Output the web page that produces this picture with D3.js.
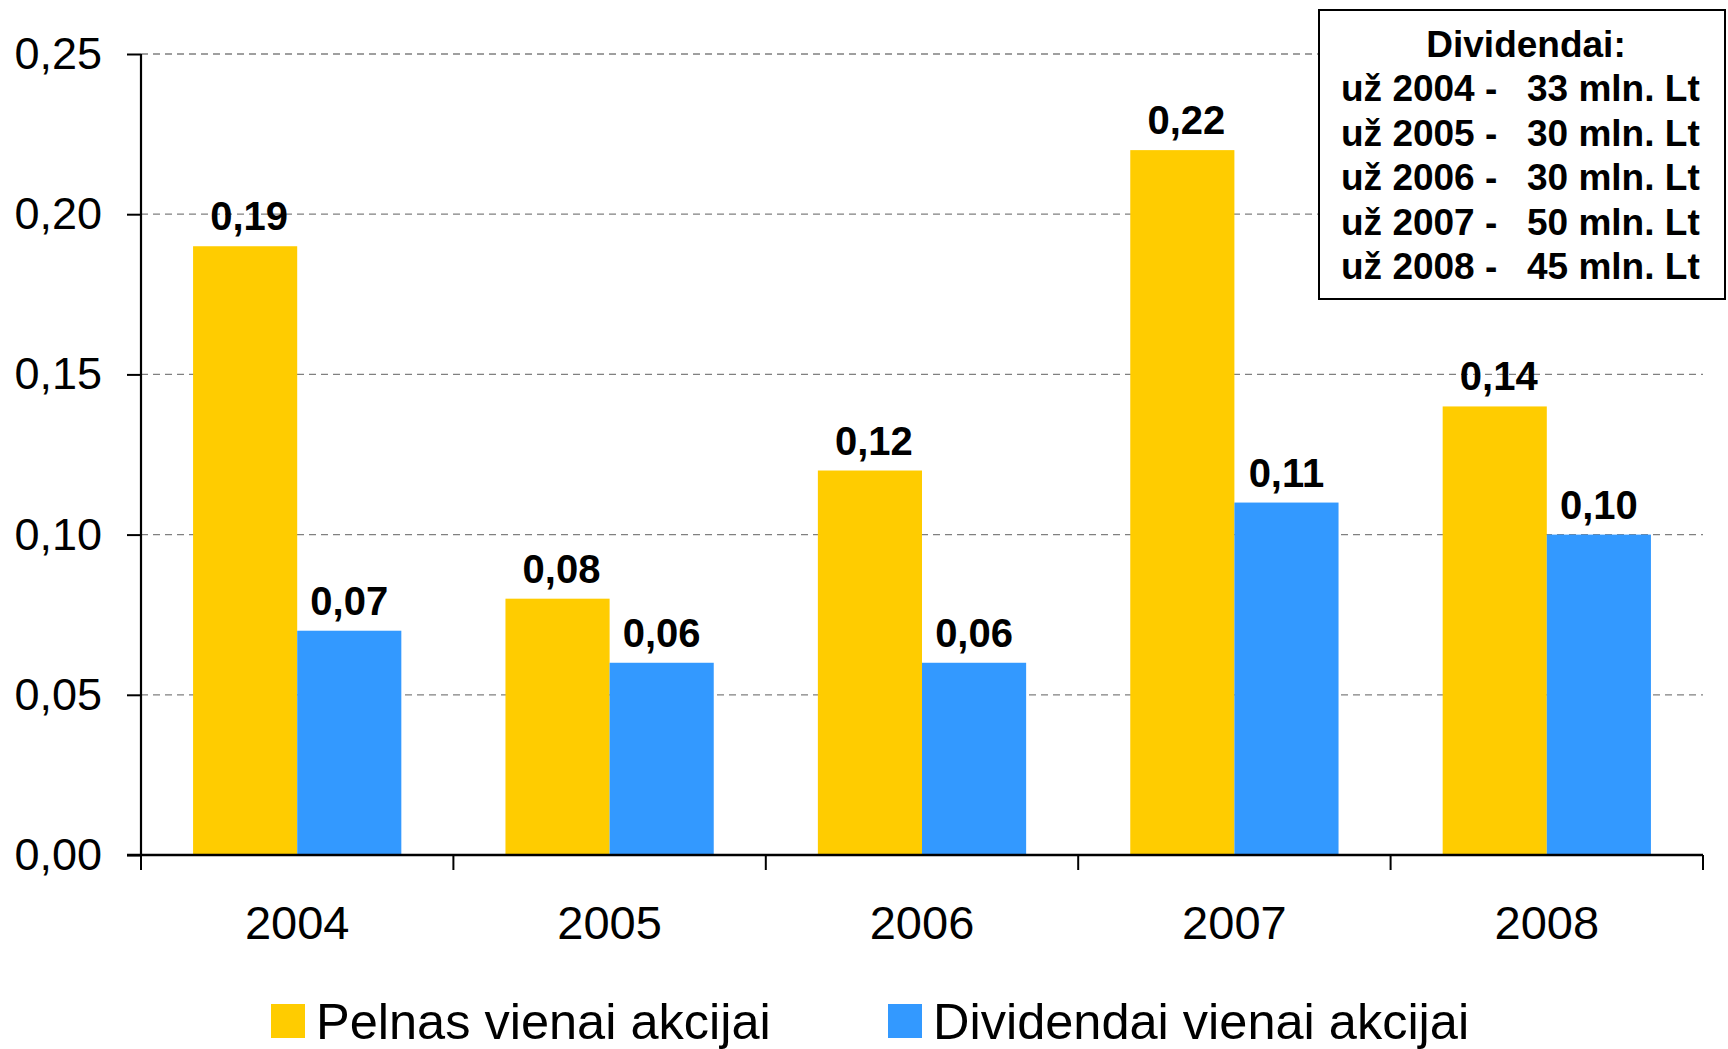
<!DOCTYPE html>
<html><head><meta charset="utf-8">
<script src="https://cdnjs.cloudflare.com/ajax/libs/d3/7.8.5/d3.min.js"></script>
<style>body{margin:0;background:#fff;}svg{display:block;font-family:"Liberation Sans",Arial,sans-serif;}</style>
</head><body>
<script>
const categories = ["2004","2005","2006","2007","2008"];
const pelnas = [0.19,0.08,0.12,0.22,0.14];
const dividendai = [0.07,0.06,0.06,0.11,0.10];
const yTicks = [0,0.05,0.10,0.15,0.20,0.25];
const seriesNames = ["Pelnas vienai akcijai","Dividendai vienai akcijai"];
const seriesColors = ["#FFCC00","#3399FF"];
const boxTitle = "Dividendai:";
const boxYears = ["už 2004 -","už 2005 -","už 2006 -","už 2007 -","už 2008 -"];
const boxAmounts = ["33 mln. Lt","30 mln. Lt","30 mln. Lt","50 mln. Lt","45 mln. Lt"];

const W=1728,H=1049;
const svg=d3.select("body").append("svg").attr("width",W).attr("height",H);
const x0=141,x1=1703,yb=855,yt=54;
const x=d3.scaleBand().domain(categories).range([x0,x1]).paddingInner(0).paddingOuter(0);
const y=d3.scaleLinear().domain([0,0.25]).range([yb,yt]);
const fmt=d=>d3.format(".2f")(d).replace(".",",");

// gridlines
svg.append("g").selectAll("line").data(yTicks.filter(d=>d>0)).join("line")
  .attr("x1",x0).attr("x2",x1).attr("y1",d=>y(d)).attr("y2",d=>y(d))
  .attr("stroke","#808080").attr("stroke-width",1.3).attr("stroke-dasharray","7,5");

// bars
const bw=x.bandwidth()/3;
const series=[pelnas,dividendai];
const labelShift=[4,0];
series.forEach((vals,si)=>{
  const g=svg.append("g");
  g.selectAll("rect").data(vals).join("rect")
    .attr("x",(d,i)=>x(categories[i])+bw/2+si*bw)
    .attr("y",d=>y(d)).attr("width",bw).attr("height",d=>yb-y(d))
    .attr("fill",seriesColors[si]);
  g.selectAll("text").data(vals).join("text")
    .attr("x",(d,i)=>x(categories[i])+bw/2+si*bw+bw/2+labelShift[si])
    .attr("y",d=>y(d)-16).attr("text-anchor","middle")
    .attr("font-size",40).attr("font-weight","bold").attr("fill","#000")
    .text(fmt);
});

// y axis
const yAxis=d3.axisLeft(y).tickValues(yTicks).tickFormat(fmt).tickSize(14).tickPadding(25);
const ya=svg.append("g").attr("transform",`translate(${x0},0)`).call(yAxis);
ya.select(".domain").attr("stroke","#000").attr("stroke-width",2.2).attr("d",`M0,${yt}V${yb}`);
ya.selectAll(".tick line").attr("stroke","#000").attr("stroke-width",2);
ya.selectAll(".tick text").attr("font-size",45).attr("fill","#000").attr("font-family","Liberation Sans, Arial, sans-serif");

// x axis
const xa=svg.append("g").attr("transform",`translate(0,${yb})`);
xa.append("line").attr("x1",x0-14).attr("x2",x1).attr("y1",0).attr("y2",0).attr("stroke","#000").attr("stroke-width",2.5);
const edges=categories.map(c=>x(c)).concat([x1]);
xa.selectAll("line.t").data(edges).join("line").attr("class","t")
  .attr("x1",d=>d).attr("x2",d=>d).attr("y1",0).attr("y2",15).attr("stroke","#000").attr("stroke-width",2);
xa.selectAll("text").data(categories).join("text")
  .attr("x",d=>x(d)+x.bandwidth()/2).attr("y",84).attr("text-anchor","middle")
  .attr("font-size",47).attr("fill","#000").text(d=>d);

// info box
const bx=1319,by=10,bwid=406,bh=289;
svg.append("rect").attr("x",bx).attr("y",by).attr("width",bwid).attr("height",bh)
  .attr("fill","#fff").attr("stroke","#000").attr("stroke-width",2);
svg.append("text").attr("x",1526).attr("y",57).attr("text-anchor","middle")
  .attr("font-size",37).attr("font-weight","bold").text(boxTitle);
svg.append("g").selectAll("text").data(boxYears).join("text")
  .attr("x",1341).attr("y",(d,i)=>101+i*44.6).attr("font-size",37).attr("font-weight","bold").text(d=>d);
svg.append("g").selectAll("text").data(boxAmounts).join("text")
  .attr("x",1527).attr("y",(d,i)=>101+i*44.6).attr("font-size",37).attr("font-weight","bold").text(d=>d);

// legend
const legX=[271,888];
seriesNames.forEach((n,i)=>{
  svg.append("rect").attr("x",legX[i]).attr("y",1004).attr("width",34).attr("height",34).attr("fill",seriesColors[i]);
  svg.append("text").attr("x",legX[i]+45).attr("y",1039).attr("font-size",50.5).attr("fill","#000").text(n);
});
</script>
</body></html>
